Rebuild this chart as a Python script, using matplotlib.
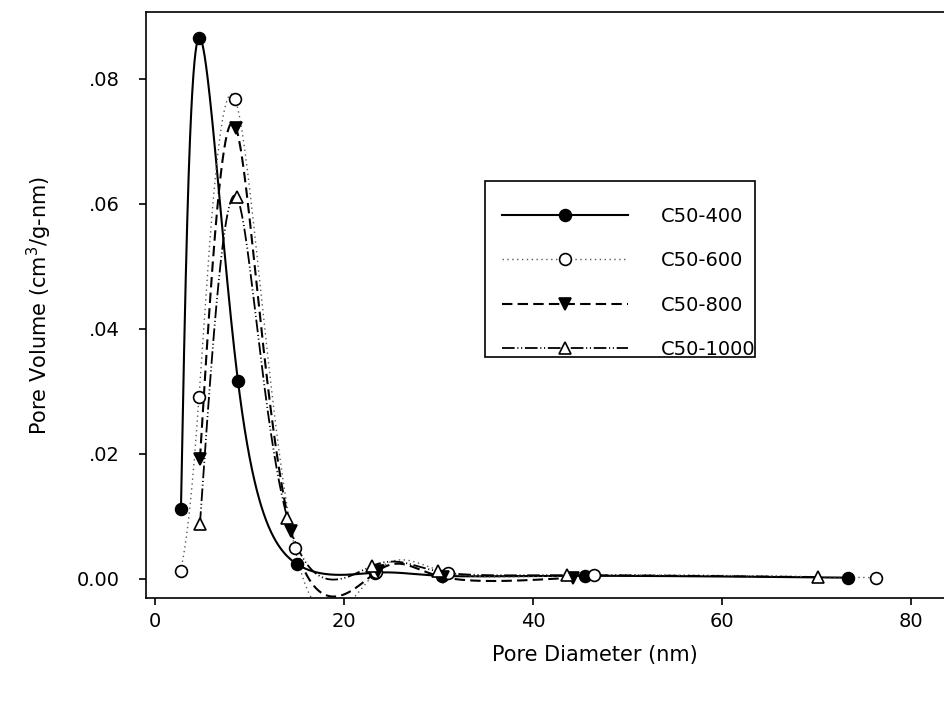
import numpy as np
import matplotlib
matplotlib.use("Agg")
import matplotlib.pyplot as plt
from matplotlib.lines import Line2D
from matplotlib.patches import Rectangle

# data (pore diameter in nm, pore volume in cm3/g-nm)
x400 = [2.75, 4.66, 8.78, 15.0, 23.3, 30.4, 45.5, 73.4]
y400 = [0.0112, 0.0866, 0.0317, 0.0024, 0.0010, 0.0005, 0.0005, 0.0002]

x600 = [2.72, 4.66, 8.47, 14.8, 23.4, 31.0, 46.5, 76.3]
y600 = [0.0012, 0.0291, 0.0768, 0.0050, 0.0011, 0.0010, 0.0006, 0.0002]

x800 = [4.76, 8.57, 14.4, 23.6, 30.5, 44.2]
y800 = [0.0192, 0.0722, 0.0077, 0.0013, 0.0003, 0.0002]

x1000 = [4.76, 8.64, 14.0, 23.0, 30.0, 43.6, 70.2]
y1000 = [0.0088, 0.0611, 0.0098, 0.0021, 0.0012, 0.0006, 0.0003]

labels = ["C50-400", "C50-600", "C50-800", "C50-1000"]
xticks = [0, 20, 40, 60, 80]
yticks = [0.0, 0.02, 0.04, 0.06, 0.08]
yticklabels = ["0.00", ".02", ".04", ".06", ".08"]

XLIM = (-0.95, 94.1)
YLIM = (-0.00305, 0.0907)


def natural_coeffs(t, v):
    k = len(t)
    h = np.diff(t)
    A = np.zeros((k, k))
    b = np.zeros(k)
    A[0, 0] = 1
    A[-1, -1] = 1
    for i in range(1, k - 1):
        A[i, i - 1] = h[i - 1]
        A[i, i] = 2 * (h[i - 1] + h[i])
        A[i, i + 1] = h[i]
        b[i] = 6 * ((v[i + 1] - v[i]) / h[i] - (v[i] - v[i - 1]) / h[i - 1])
    return np.linalg.solve(A, b)


def eval_spline(t, v, M, ts):
    idx = np.clip(np.searchsorted(t, ts) - 1, 0, len(t) - 2)
    t0, t1 = t[idx], t[idx + 1]
    hh = t1 - t0
    a = (t1 - ts) / hh
    c = (ts - t0) / hh
    return (a * v[idx] + c * v[idx + 1]
            + ((a ** 3 - a) * M[idx] + (c ** 3 - c) * M[idx + 1]) * hh ** 2 / 6)


def spline_curve(x, y, n=1000):
    """parametric natural spline (uniform parameter), like the sigmaplot spline line"""
    x = np.asarray(x, float)
    y = np.asarray(y, float)
    t = np.arange(len(x), dtype=float)
    ts = np.linspace(0, t[-1], n)
    xs = eval_spline(t, x, natural_coeffs(t, x), ts)
    ys = eval_spline(t, y, natural_coeffs(t, y), ts)
    return xs, ys


plt.rcParams["font.family"] = "DejaVu Sans"

fig = plt.figure(figsize=(9.44, 7.22), dpi=100)
# axes runs past the right edge of the picture, as in the cropped original
ax = fig.add_axes([146 / 944, 1 - 598 / 722, 898 / 944, 586 / 722])

styles = [
    dict(ls="-", color="black", lw=1.5, marker="o", mfc="black"),
    dict(ls=(0, (1, 2.5)), color="0.35", lw=1.0, marker="o", mfc="white"),
    dict(ls=(0, (5, 2.5)), color="black", lw=1.5, marker="v", mfc="black"),
    dict(ls=(0, (7, 1.5, 0.6, 1.5, 0.6, 1.5)), color="black", lw=1.3, marker="^", mfc="white"),
]
series = [(x400, y400), (x600, y600), (x800, y800), (x1000, y1000)]

handles = []
for (xv, yv), st, lab in zip(series, styles, labels):
    xs, ys = spline_curve(xv, yv)
    ax.plot(xs, ys, linestyle=st["ls"], color=st["color"], lw=st["lw"], zorder=2)
    ax.plot(xv, yv, linestyle="none", marker=st["marker"], ms=8.5,
            mfc=st["mfc"], mec="black", mew=1.2, zorder=3)
    handles.append(Line2D([], [], linestyle=st["ls"], color=st["color"], lw=st["lw"],
                          marker=st["marker"], ms=8.5, mfc=st["mfc"], mec="black", mew=1.2))

ax.set_xlim(*XLIM)
ax.set_ylim(*YLIM)
ax.set_xticks(xticks)
ax.set_xticklabels([str(t) for t in xticks])
ax.set_yticks(yticks)
ax.set_yticklabels(yticklabels)
ax.tick_params(direction="out", length=5, width=1.2, labelsize=14)
ax.tick_params(axis="y", pad=14)
ax.tick_params(axis="x", pad=5)
ax.spines["right"].set_visible(False)
for s in ["left", "bottom", "top"]:
    ax.spines[s].set_linewidth(1.2)

ax.set_xlabel("Pore Diameter (nm)", fontsize=15, labelpad=10)
ax.set_ylabel("Pore Volume (cm$^3$/g-nm)", fontsize=15, labelpad=16)

# legend box drawn as a plain rectangle, entries placed inside it
W = 898
ax.add_patch(Rectangle(((485 - 146) / W, 1 - (357 - 12) / 586), 270 / W, 176 / 586,
                       transform=ax.transAxes, fill=False, ec="black", lw=1.2, zorder=4))
leg = ax.legend(handles, labels, loc="upper left",
                bbox_to_anchor=((502 - 146) / W, 1 - (207 - 12) / 586),
                fontsize=14, frameon=False, handlelength=6.5, handletextpad=1.65,
                labelspacing=1.3, borderpad=0, borderaxespad=0)

fig.savefig("out.png", dpi=100)
